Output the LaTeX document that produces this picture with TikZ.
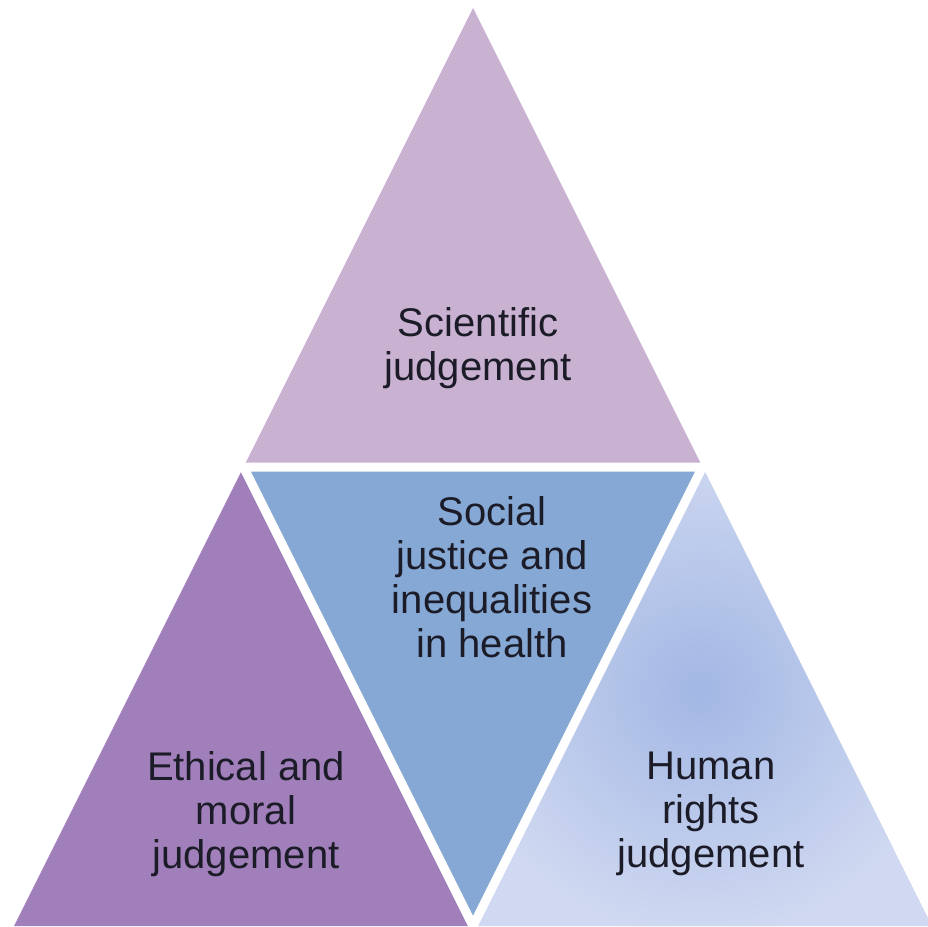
\documentclass[tikz,border=0pt]{standalone}
\usepackage{fontspec}
\setmainfont{Liberation Sans}
\usetikzlibrary{calc}
\definecolor{topfill}{RGB}{201,177,209}
\definecolor{leftfill}{RGB}{161,127,186}
\definecolor{midfill}{RGB}{134,168,213}
\definecolor{rightfill}{RGB}{208,217,241}
\definecolor{rightcore}{RGB}{162,183,228}
\definecolor{labelink}{RGB}{28,28,40}
\begin{document}
\begin{tikzpicture}[x=1pt,y=-1pt,
  label text/.style={align=center, inner sep=0pt, text=labelink,
    font=\fontsize{40}{44}\selectfont},
  gap/.style={white, line width=9pt, line join=miter}]
\useasboundingbox (0,0) rectangle (928,926);
\clip (0,0) rectangle (928,926);

% corners of the large triangle and the midpoints of its sides
\coordinate (apex) at (473,8);
\coordinate (bl) at (14,926);
\coordinate (br) at (932,926);
\coordinate (ml) at ($(apex)!0.5!(bl)$);
\coordinate (mr) at ($(apex)!0.5!(br)$);
\coordinate (mb) at ($(bl)!0.5!(br)$);

% the four sub-triangles
\fill[topfill] (apex) -- (ml) -- (mr) -- cycle;
\fill[leftfill] (ml) -- (bl) -- (mb) -- cycle;
\fill[midfill] (ml) -- (mr) -- (mb) -- cycle;
\begin{scope}
  \clip (mr) -- (mb) -- (br) -- cycle;
  \fill[rightfill] (mr) -- (mb) -- (br) -- cycle;
  \shade[inner color=rightcore, outer color=rightfill] (700,690) circle (250pt);
\end{scope}

% white gaps between the pieces
\draw[gap] (ml) -- (mr) -- (mb) -- cycle;

% labels
\node[label text] (sci) at (478,348) {Scientific\\judgement};
\node[label text] (soc) at (492,577) {Social\\justice and\\inequalities\\in health};
\node[label text] (eth) at (246,814) {Ethical and\\moral\\judgement};
\node[label text] (hum) at (711,814) {Human\\rights\\judgement};
\end{tikzpicture}
\end{document}
